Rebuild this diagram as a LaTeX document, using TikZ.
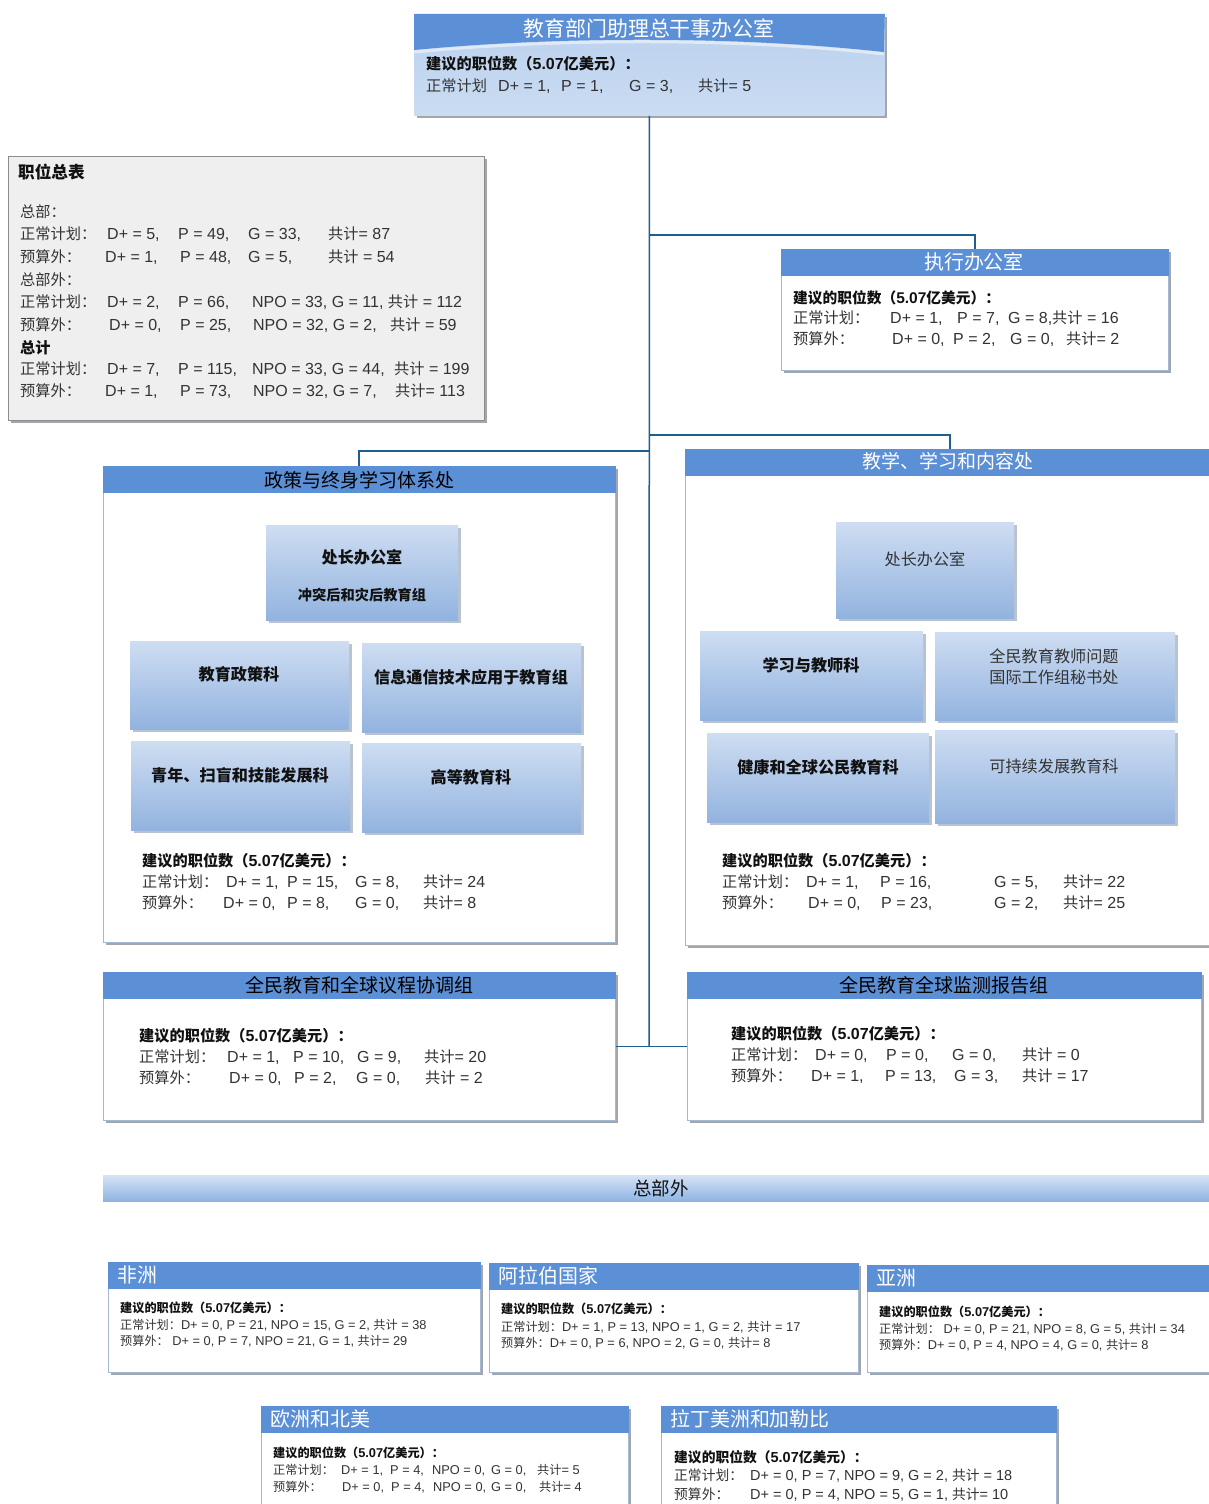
\documentclass[tikz,border=0pt]{standalone}
\usepackage{fontspec}
\setmainfont{Liberation Sans}
\newfontfamily\cjkfont[Scale=0.95]{Noto Sans CJK SC}
\usetikzlibrary{shadows}
% automatic switch to the CJK font for CJK characters
\XeTeXinterchartokenstate=1
\newXeTeXintercharclass\cjkclass
\newcount\mycnt
\mycnt="3000 \loop\XeTeXcharclass\mycnt=\cjkclass\relax\ifnum\mycnt<"303F \advance\mycnt 1 \repeat
\mycnt="4E00 \loop\XeTeXcharclass\mycnt=\cjkclass\relax\ifnum\mycnt<"9FFF \advance\mycnt 1 \repeat
\mycnt="FF00 \loop\XeTeXcharclass\mycnt=\cjkclass\relax\ifnum\mycnt<"FFEF \advance\mycnt 1 \repeat
\XeTeXinterchartoks 0 \cjkclass = {\cjkfont}
\XeTeXinterchartoks 4095 \cjkclass = {\cjkfont}
\XeTeXinterchartoks \cjkclass 0 = {\rmfamily}
\XeTeXinterchartoks \cjkclass 4095 = {\rmfamily}

\definecolor{hdrblue}{HTML}{5B8FD6}
\definecolor{linkblue}{HTML}{1F5F8F}
\definecolor{paneline}{HTML}{A3B8D4}
\definecolor{shadowgray}{HTML}{A3A7AD}
\definecolor{cellshadow}{HTML}{B9C3D0}
\definecolor{cellTop}{HTML}{CEDDF2}
\definecolor{cellBot}{HTML}{92B3DF}
\definecolor{ink}{HTML}{111111}
\definecolor{inkgray}{HTML}{333333}
\definecolor{sumfill}{HTML}{EFEFEF}
\definecolor{sumline}{HTML}{8C8C8C}
\definecolor{topTop}{HTML}{BAD0EE}
\definecolor{topBot}{HTML}{CADCF2}
\definecolor{barTop}{HTML}{D5E3F5}
\definecolor{barBot}{HTML}{8EB4E3}

\newcommand\colf[2]{\makebox[#1pt][l]{#2}}

\tikzset{
  pane/.style={draw=paneline, line width=0.8pt, fill=white, anchor=north west, inner sep=0pt,
    general shadow={fill=shadowgray, shadow xshift=3pt, shadow yshift=-3pt}},
  hdr/.style={fill=hdrblue, draw=hdrblue, anchor=north west, inner sep=0pt},
  cell/.style={top color=cellTop, bottom color=cellBot, anchor=north west, inner sep=0pt,
    general shadow={fill=cellshadow, shadow xshift=3pt, shadow yshift=-3pt}},
  sumbox/.style={draw=sumline, line width=0.8pt, fill=sumfill, anchor=north west, inner sep=0pt,
    general shadow={fill=shadowgray, shadow xshift=3pt, shadow yshift=-3pt}},
  barbox/.style={top color=barTop, bottom color=barBot, anchor=north west, inner sep=0pt},
  link/.style={draw=linkblue, line width=1.5pt},
  ttl/.style={inner sep=0pt, text=white, font=\fontsize{21}{24}\selectfont},
  rttl/.style={inner sep=0pt, anchor=west, text=white, font=\fontsize{21}{24}\selectfont},
  ln/.style={anchor=west, inner sep=0pt, text=inkgray, font=\fontsize{16}{19}\selectfont},
  bl/.style={anchor=west, inner sep=0pt, text=ink, font=\fontsize{16}{19}\selectfont\bfseries},
  sln/.style={anchor=west, inner sep=0pt, text=inkgray, font=\fontsize{12.8}{15}\selectfont},
  sbl/.style={anchor=west, inner sep=0pt, text=ink, font=\fontsize{12.8}{15}\selectfont\bfseries},
  mln/.style={anchor=west, inner sep=0pt, text=inkgray, font=\fontsize{14.5}{17}\selectfont},
  mbl/.style={anchor=west, inner sep=0pt, text=ink, font=\fontsize{14.5}{17}\selectfont\bfseries},
  celltxt/.style={inner sep=0pt, text=ink, font=\fontsize{17}{21}\selectfont\bfseries, align=center},
  cellreg/.style={inner sep=0pt, text=inkgray, font=\fontsize{17}{21}\selectfont, align=center},
}

\begin{document}
\begin{tikzpicture}[x=1pt, y=-1pt]
\useasboundingbox (0,0) rectangle (1209,1504);
\fill[white] (0,0) rectangle (1209,1504);

\coordinate (jExec) at (649,235);
\coordinate (jRight) at (649,435);
\coordinate (jLeft) at (649,451);
\coordinate (jBottom) at (649,1046);

% ---------- top box ----------
\node[pane, draw=none, top color=topTop, bottom color=topBot, minimum width=470pt, minimum height=101pt] (top) at (414,14) {};
\fill[hdrblue] (top.north west) -- (top.north east) -- (884,52) .. controls (740,36) and (560,36) .. (414,50) -- cycle;
\draw[white!55!topTop, line width=3pt] (414,52) .. controls (560,38) and (740,38) .. (884,54);
\node[ttl, font=\fontsize{22}{25}\selectfont] (topT) at (649,28) {教育部门助理总干事办公室};
\node[bl] (top0) at (426,64) {建议的职位数（5.07亿美元）：};
\node[ln] (top1) at (426,86) {\colf{72}{正常计划}\colf{63}{D+ = 1,}\colf{68}{P = 1,}\colf{69}{G = 3,}共计= 5};

% ---------- summary box ----------
\node[sumbox, minimum width=476pt, minimum height=264pt] (sum) at (8,156) {};
\node[bl, font=\fontsize{17.5}{20}\selectfont\bfseries] (sumT) at (18,172) {职位总表};
\node[ln] (s1) at (20,212) {总部：};
\node[ln] (s2) at (20,234) {\colf{87}{正常计划：}\colf{71}{D+ = 5,}\colf{70}{P = 49,}\colf{80}{G = 33,}共计= 87};
\node[ln] (s3) at (20,257) {\colf{85}{预算外：}\colf{75}{D+ = 1,}\colf{68}{P = 48,}\colf{80}{G = 5,}共计 = 54};
\node[ln] (s4) at (20,280) {总部外：};
\node[ln] (s5) at (20,302) {\colf{87}{正常计划：}\colf{71}{D+ = 2,}\colf{74}{P = 66,}NPO = 33, G = 11, 共计 = 112};
\node[ln] (s6) at (20,325) {\colf{89}{预算外：}\colf{71}{D+ = 0,}\colf{73}{P = 25,}\colf{137}{NPO = 32, G = 2,}共计 = 59};
\node[bl] (s7) at (20,348) {总计};
\node[ln] (s8) at (20,369) {\colf{87}{正常计划：}\colf{71}{D+ = 7,}\colf{74}{P = 115,}\colf{142}{NPO = 33, G = 44,}共计 = 199};
\node[ln] (s9) at (20,391) {\colf{85}{预算外：}\colf{75}{D+ = 1,}\colf{73}{P = 73,}\colf{142}{NPO = 32, G = 7,}共计= 113};

% ---------- executive office ----------
\node[pane, minimum width=387pt, minimum height=121pt] (exec) at (781,249) {};
\node[hdr, minimum width=387pt, minimum height=26pt] (execH) at (781,249) {};
\node[ttl] (execT) at (974,262) {执行办公室};
\node[bl, font=\fontsize{15.5}{18}\selectfont\bfseries] (ex0) at (793,298) {建议的职位数（5.07亿美元）：};
\node[ln] (ex1) at (793,318) {\colf{97}{正常计划：}\colf{67}{D+ = 1,}\colf{51}{P = 7,}G = 8,共计 = 16};
\node[ln] (ex2) at (793,339) {\colf{99}{预算外：}\colf{61}{D+ = 0,}\colf{57}{P = 2,}\colf{56}{G = 0,}共计= 2};

% ---------- policy division ----------
\node[pane, minimum width=512pt, minimum height=476pt] (pol) at (103,466) {};
\node[hdr, minimum width=512pt, minimum height=26pt] (polH) at (103,466) {};
\node[ttl, text=black, font=\fontsize{20}{23}\selectfont] (polT) at (359,480) {政策与终身学习体系处};

\node[cell, minimum width=192pt, minimum height=95pt] (dirL) at (266,525) {};
\node[celltxt] (dirLa) at (362,557) {处长办公室};
\node[celltxt, font=\fontsize{15}{18}\selectfont\bfseries] (dirLb) at (362,595) {冲突后和灾后教育组};
\node[cell, minimum width=219pt, minimum height=88pt] (epol) at (130,641) {};
\node[celltxt] (epolT) at (239,674) {教育政策科};
\node[cell, minimum width=219pt, minimum height=89pt] (ict) at (362,643) {};
\node[celltxt] (ictT) at (471,677) {信息通信技术应用于教育组};
\node[cell, minimum width=219pt, minimum height=89pt] (youth) at (131,741) {};
\node[celltxt] (youthT) at (240,775) {青年、扫盲和技能发展科};
\node[cell, minimum width=219pt, minimum height=89pt] (higher) at (362,743) {};
\node[celltxt] (higherT) at (471,777) {高等教育科};

\node[bl] (pl0) at (142,861) {建议的职位数（5.07亿美元）：};
\node[ln] (pl1) at (142,882) {\colf{84}{正常计划：}\colf{61}{D+ = 1,}\colf{68}{P = 15,}\colf{68}{G = 8,}共计= 24};
\node[ln] (pl2) at (142,903) {\colf{81}{预算外：}\colf{64}{D+ = 0,}\colf{68}{P = 8,}\colf{68}{G = 0,}共计= 8};

% ---------- teaching division ----------
\node[pane, minimum width=530pt, minimum height=496pt] (tlc) at (685,449) {};
\node[hdr, minimum width=530pt, minimum height=26pt] (tlcH) at (685,449) {};
\node[ttl, font=\fontsize{20}{23}\selectfont] (tlcT) at (948,461) {教学、学习和内容处};

\node[cell, minimum width=178pt, minimum height=96pt] (dirR) at (836,522) {};
\node[cellreg] (dirRT) at (925,559) {处长办公室};
\node[cell, minimum width=223pt, minimum height=89pt] (learn) at (700,631) {};
\node[celltxt] (learnT) at (811,665) {学习与教师科};
\node[cell, minimum width=240pt, minimum height=88pt] (gtf) at (935,632) {};
\node[cellreg] (gtfT) at (1054,666.5) {全民教育教师问题\\国际工作组秘书处};
\node[cell, minimum width=222pt, minimum height=89pt] (health) at (707,733) {};
\node[celltxt] (healthT) at (818,767) {健康和全球公民教育科};
\node[cell, minimum width=240pt, minimum height=93pt] (esd) at (935,730) {};
\node[cellreg] (esdT) at (1054,766) {可持续发展教育科};

\node[bl] (tl0) at (722,861) {建议的职位数（5.07亿美元）：};
\node[ln] (tl1) at (722,882) {\colf{84}{正常计划：}\colf{74}{D+ = 1,}\colf{114}{P = 16,}\colf{69}{G = 5,}共计= 22};
\node[ln] (tl2) at (722,903) {\colf{86}{预算外：}\colf{73}{D+ = 0,}\colf{113}{P = 23,}\colf{69}{G = 2,}共计= 25};

% ---------- EFA coordination ----------
\node[pane, minimum width=512pt, minimum height=148pt] (coord) at (103,972) {};
\node[hdr, minimum width=512pt, minimum height=26pt] (coordH) at (103,972) {};
\node[ttl, text=black, font=\fontsize{20}{23}\selectfont] (coordT) at (359,985) {全民教育和全球议程协调组};
\node[bl] (c0) at (139,1036) {建议的职位数（5.07亿美元）：};
\node[ln] (c1) at (139,1057) {\colf{88}{正常计划：}\colf{66}{D+ = 1,}\colf{64}{P = 10,}\colf{67}{G = 9,}共计= 20};
\node[ln] (c2) at (139,1078) {\colf{90}{预算外：}\colf{65}{D+ = 0,}\colf{62}{P = 2,}\colf{69}{G = 0,}共计 = 2};

% ---------- EFA GMR ----------
\node[pane, minimum width=514pt, minimum height=148pt] (gmr) at (687,972) {};
\node[hdr, minimum width=514pt, minimum height=26pt] (gmrH) at (687,972) {};
\node[ttl, text=black, font=\fontsize{20}{23}\selectfont] (gmrT) at (944,985) {全民教育全球监测报告组};
\node[bl] (m0) at (731,1034) {建议的职位数（5.07亿美元）：};
\node[ln] (m1) at (731,1055) {\colf{84}{正常计划：}\colf{71}{D+ = 0,}\colf{66}{P = 0,}\colf{70}{G = 0,}共计 = 0};
\node[ln] (m2) at (731,1076) {\colf{80}{预算外：}\colf{74}{D+ = 1,}\colf{69}{P = 13,}\colf{68}{G = 3,}共计 = 17};

% ---------- connectors ----------
\draw[link] (top.south) -- (jBottom);
\draw[link] (jExec) -| (exec.north);
\draw[link] (jRight) -| (tlcH.north);
\draw[link] (jLeft) -| (polH.north);
\draw[link] (coord.east) -- (gmr.west);

% ---------- field offices bar ----------
\node[barbox, minimum width=1110pt, minimum height=26pt] (hqout) at (103,1175) {};
\node[inner sep=0pt, text=ink, font=\fontsize{19.5}{22}\selectfont] (hqoutT) at (661,1188) {总部外};

% ---------- regions ----------
\node[pane, minimum width=372pt, minimum height=110pt] (afr) at (108,1262) {};
\node[hdr, minimum width=372pt, minimum height=26pt] (afrH) at (108,1262) {};
\node[rttl] (afrT) at (117,1275) {非洲};
\node[sbl] (a0) at (120,1308) {建议的职位数（5.07亿美元）：};
\node[sln] (a1) at (120,1325) {正常计划：D+ = 0, P = 21, NPO = 15, G = 2, 共计 = 38};
\node[sln] (a2) at (120,1341) {预算外： D+ = 0, P = 7, NPO = 21, G = 1, 共计= 29};

\node[pane, minimum width=369pt, minimum height=109pt] (arb) at (489,1263) {};
\node[hdr, minimum width=369pt, minimum height=26pt] (arbH) at (489,1263) {};
\node[rttl] (arbT) at (498,1276) {阿拉伯国家};
\node[sbl] (b0) at (501,1309) {建议的职位数（5.07亿美元）：};
\node[sln] (b1) at (501,1327) {正常计划：D+ = 1, P = 13, NPO = 1, G = 2, 共计 = 17};
\node[sln] (b2) at (501,1343) {预算外：D+ = 0, P = 6, NPO = 2, G = 0, 共计= 8};

\node[pane, minimum width=350pt, minimum height=107pt] (asia) at (867,1265) {};
\node[hdr, minimum width=350pt, minimum height=26pt] (asiaH) at (867,1265) {};
\node[rttl] (asiaT) at (876,1278) {亚洲};
\node[sbl] (d0) at (879,1312) {建议的职位数（5.07亿美元）：};
\node[sln] (d1) at (879,1329) {正常计划： D+ = 0, P = 21, NPO = 8, G = 5, 共计l = 34};
\node[sln] (d2) at (879,1345) {预算外：D+ = 0, P = 4, NPO = 4, G = 0, 共计= 8};

\node[pane, minimum width=367pt, minimum height=110pt] (eur) at (261,1406) {};
\node[hdr, minimum width=367pt, minimum height=26pt] (eurH) at (261,1406) {};
\node[rttl] (eurT) at (270,1419) {欧洲和北美};
\node[sbl] (e0) at (273,1453) {建议的职位数（5.07亿美元）：};
\node[sln] (e1) at (273,1470) {\colf{68}{正常计划：}\colf{49}{D+ = 1,}\colf{42}{P = 4,}\colf{59}{NPO = 0,}\colf{46}{G = 0,}共计= 5};
\node[sln] (e2) at (273,1487) {\colf{69}{预算外：}\colf{49}{D+ = 0,}\colf{42}{P = 4,}\colf{58}{NPO = 0,}\colf{48}{G = 0,}共计= 4};

\node[pane, minimum width=395pt, minimum height=110pt] (lac) at (661,1406) {};
\node[hdr, minimum width=395pt, minimum height=26pt] (lacH) at (661,1406) {};
\node[rttl] (lacT) at (670,1419) {拉丁美洲和加勒比};
\node[mbl] (l0) at (674,1457) {建议的职位数（5.07亿美元）：};
\node[mln] (l1) at (674,1476) {\colf{76}{正常计划：}D+ = 0, P = 7, NPO = 9, G = 2, 共计 = 18};
\node[mln] (l2) at (674,1495) {\colf{76}{预算外：}D+ = 0, P = 4, NPO = 5, G = 1, 共计= 10};
\end{tikzpicture}
\end{document}
